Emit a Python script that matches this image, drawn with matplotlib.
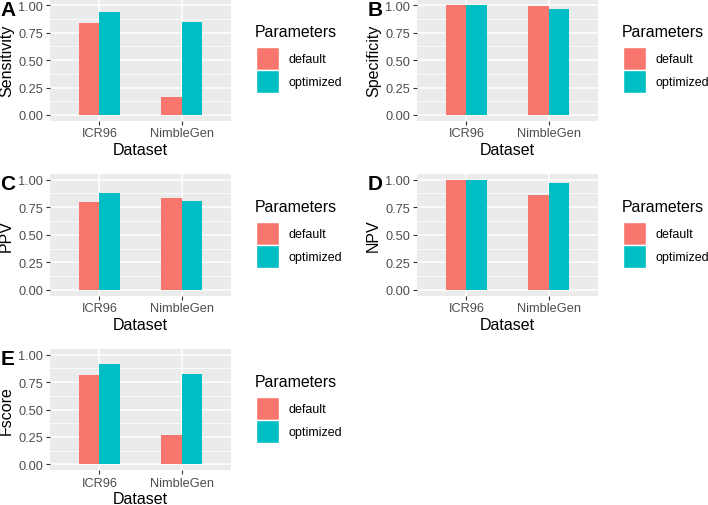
import numpy as np
import matplotlib
matplotlib.use("Agg")
import matplotlib.pyplot as plt
from matplotlib.patches import Patch
from matplotlib.ticker import MultipleLocator

plt.rcParams['font.family'] = ['Liberation Sans', 'DejaVu Sans']

# ---- data ----
datasets = ['ICR96', 'NimbleGen']
params = ['default', 'optimized']
sensitivity_default = [0.834, 0.160]
sensitivity_optimized = [0.940, 0.845]
specificity_default = [1.000, 0.994]
specificity_optimized = [1.000, 0.964]
ppv_default = [0.800, 0.834]
ppv_optimized = [0.879, 0.807]
npv_default = [1.000, 0.861]
npv_optimized = [1.000, 0.967]
fscore_default = [0.818, 0.270]
fscore_optimized = [0.912, 0.824]

col_default = '#F8766D'
col_optim = '#00BFC4'
bar_w = 0.25  # dodge width 0.5 total

W, H = 708, 506
fig = plt.figure(figsize=(W / 100, H / 100), dpi=100)


def px_axes(x0, x1, ytop, ybot):
    return fig.add_axes([x0 / W, 1 - ybot / H, (x1 - x0) / W, (ybot - ytop) / H])


def panel(ax, letter, ylab, dflt, opt, leg_x, title_base, key_top):
    x = np.arange(1, len(datasets) + 1)
    ax.set_facecolor('#EBEBEB')
    ax.bar(x - bar_w / 2, dflt, width=bar_w, color=col_default, zorder=3)
    ax.bar(x + bar_w / 2, opt, width=bar_w, color=col_optim, zorder=3)
    ax.set_xlim(0.4, 2.6)
    ax.set_ylim(-0.05, 1.05)
    ax.set_xticks(x)
    ax.set_xticklabels(datasets)
    ax.set_yticks([0, 0.25, 0.5, 0.75, 1.0])
    ax.set_yticklabels(['0.00', '0.25', '0.50', '0.75', '1.00'])
    ax.yaxis.set_minor_locator(MultipleLocator(0.125))
    ax.grid(which='major', color='white', lw=1.1, zorder=1)
    ax.grid(which='minor', axis='y', color='white', lw=0.55, zorder=1)
    ax.tick_params(which='major', length=3, width=0.8, color='#333333',
                   labelcolor='#4D4D4D', labelsize=9.2, pad=2)
    ax.tick_params(which='minor', length=0)
    for s in ax.spines.values():
        s.set_visible(False)
    ax.set_xlabel('Dataset', fontsize=11.5, labelpad=1.5)
    ax.set_ylabel(ylab, fontsize=11.5, labelpad=3)
    ax.text(-0.275, 1.0, letter, transform=ax.transAxes, fontsize=15,
            fontweight='bold', ha='left', va='top')
    # legend: title as separate text, keys below
    fig.text(leg_x / W, 1 - title_base / H, 'Parameters', fontsize=11.4,
             ha='left', va='baseline')
    handles = [Patch(facecolor=col_default, edgecolor='white', lw=1),
               Patch(facecolor=col_optim, edgecolor='white', lw=1)]
    ax.legend(handles, params, frameon=False, loc='upper left',
              bbox_to_anchor=((leg_x + 1) / W, 1 - key_top / H),
              bbox_transform=fig.transFigure,
              fontsize=9, handlelength=1.84, handleheight=2.46,
              labelspacing=0, handletextpad=0.75,
              borderpad=0, borderaxespad=0)
    return ax


axA = px_axes(50, 231, 0.5, 121.5)
panel(axA, 'A', 'Sensitivity', sensitivity_default, sensitivity_optimized, 255, 37.3, 48)
axB = px_axes(417, 598, 0.5, 121.5)
panel(axB, 'B', 'Specificity', specificity_default, specificity_optimized, 622, 37.3, 48)
axC = px_axes(50, 231, 175.2, 296.5)
panel(axC, 'C', 'PPV', ppv_default, ppv_optimized, 255, 211.7, 223)
axD = px_axes(417, 598, 175.2, 296.5)
panel(axD, 'D', 'NPV', npv_default, npv_optimized, 622, 211.7, 223)
axE = px_axes(50, 231, 350.2, 470.8)
panel(axE, 'E', 'Fscore', fscore_default, fscore_optimized, 255, 386.7, 398)

fig.savefig('out.png', dpi=100, facecolor='white')
